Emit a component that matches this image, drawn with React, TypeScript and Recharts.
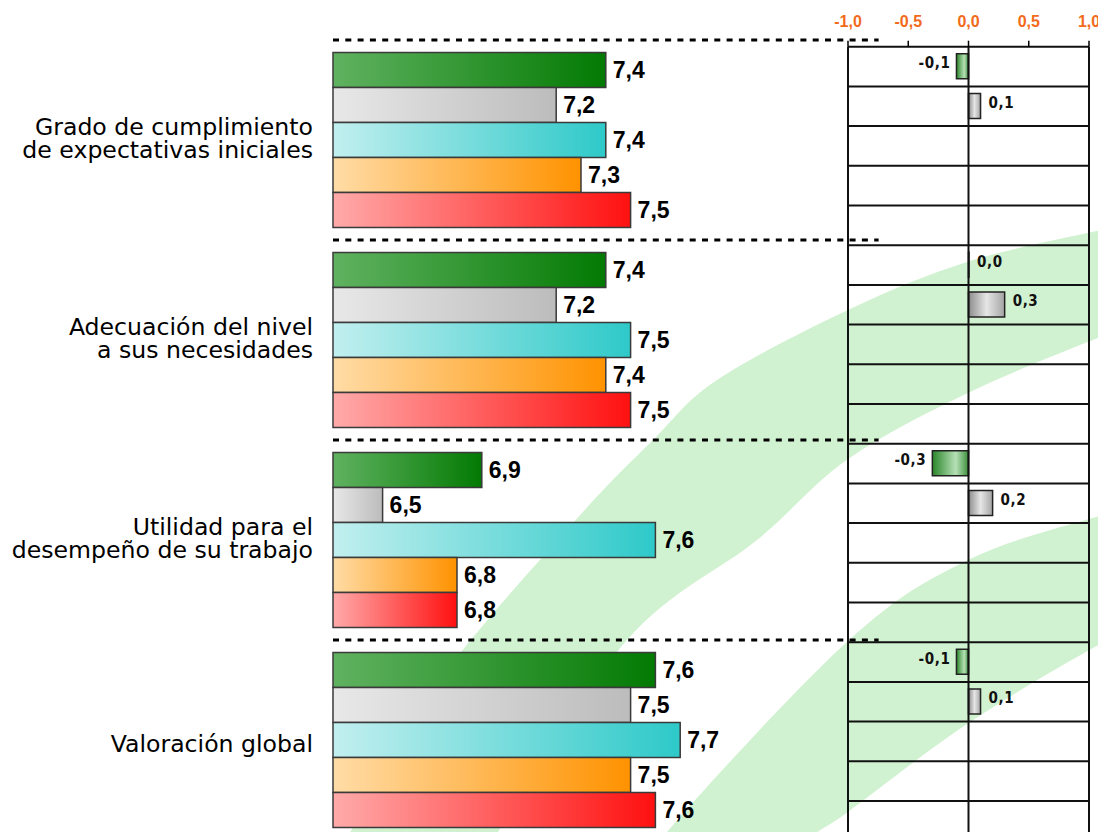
import React from "react";
import {
  BarChart,
  Bar,
  XAxis,
  YAxis,
  CartesianGrid,
  LabelList,
  Cell,
  ReferenceLine,
} from "recharts";

// category labels (one entry per line)
const categories = [
  ["Grado de cumplimiento", "de expectativas iniciales"],
  ["Adecuación del nivel", "a sus necesidades"],
  ["Utilidad para el", "desempeño de su trabajo"],
  ["Valoración global"],
];

// left panel: scores per series
const serieVerde = [7.4, 7.4, 6.9, 7.6];
const serieGris = [7.2, 7.2, 6.5, 7.5];
const serieTurquesa = [7.4, 7.5, 7.6, 7.7];
const serieNaranja = [7.3, 7.4, 6.8, 7.5];
const serieRoja = [7.5, 7.5, 6.8, 7.6];

// right panel: differences (only the first two series have one)
const difVerde = [-0.1, 0.0, -0.3, -0.1];
const difGris = [0.1, 0.3, 0.2, 0.1];

const diffTicks = [-1, -0.5, 0, 0.5, 1];

const series = [
  { key: "verde", grad: "gVerde" },
  { key: "gris", grad: "gGris" },
  { key: "turquesa", grad: "gTurquesa" },
  { key: "naranja", grad: "gNaranja" },
  { key: "roja", grad: "gRoja" },
];

const ARIAL = "'Liberation Sans', Arial, sans-serif";
const VERDANA = "'DejaVu Sans', Verdana, sans-serif";

const fmt = (v: any) => (typeof v === "number" ? v.toFixed(1).replace(".", ",") : "");

const mainData = categories.map((lines, i) => ({
  name: lines.join("|"),
  verde: serieVerde[i],
  gris: serieGris[i],
  turquesa: serieTurquesa[i],
  naranja: serieNaranja[i],
  roja: serieRoja[i],
}));

const diffData = categories.flatMap((_, i) => [
  { id: `${i}-verde`, v: difVerde[i], kind: "verde" },
  { id: `${i}-gris`, v: difGris[i], kind: "gris" },
  { id: `${i}-turquesa`, v: null, kind: "none" },
  { id: `${i}-naranja`, v: null, kind: "none" },
  { id: `${i}-roja`, v: null, kind: "none" },
]);

// decorative background arcs
const bandA = {
  upper: [[300, 930], [346, 840], [440, 680], [573, 523], [653, 440], [717, 380], [848, 310], [970, 261], [1106, 229], [1150, 220]],
  lower: [[1150, 322], [1106, 335], [970, 392], [848, 459], [757, 540], [627, 640], [493, 840], [450, 920]],
};
const bandB = {
  upper: [[600, 930], [660, 840], [848, 641], [970, 559], [1106, 514], [1150, 503]],
  lower: [[1150, 625], [1106, 641], [970, 722], [848, 812], [810, 840], [770, 900]],
};

function curve(pts: number[][]) {
  let d = "";
  for (let i = 0; i < pts.length - 1; i++) {
    const p0 = pts[i - 1] || pts[i];
    const p1 = pts[i];
    const p2 = pts[i + 1];
    const p3 = pts[i + 2] || p2;
    const c1x = p1[0] + (p2[0] - p0[0]) / 6;
    const c1y = p1[1] + (p2[1] - p0[1]) / 6;
    const c2x = p2[0] - (p3[0] - p1[0]) / 6;
    const c2y = p2[1] - (p3[1] - p1[1]) / 6;
    d += ` C${c1x},${c1y} ${c2x},${c2y} ${p2[0]},${p2[1]}`;
  }
  return d;
}

function bandPath(b: { upper: number[][]; lower: number[][] }) {
  return (
    `M${b.upper[0][0]},${b.upper[0][1]}` +
    curve(b.upper) +
    ` L${b.lower[0][0]},${b.lower[0][1]}` +
    curve(b.lower) +
    " Z"
  );
}

const CategoryTick = (props: any) => {
  const { x, y, payload } = props;
  const lines: string[] = String(payload.value).split("|");
  const first = lines.length === 1 ? 12 : -5;
  return (
    <text x={x} y={y} textAnchor="end" fill="#000" style={{ fontSize: 23.6, fontFamily: VERDANA }}>
      {lines.map((l, i) => (
        <tspan key={i} x={x} y={y + first + i * 23}>
          {l}
        </tspan>
      ))}
    </text>
  );
};

const DiffTick = (props: any) => {
  const { x, y, payload } = props;
  return (
    <text
      x={x}
      y={y}
      textAnchor="middle"
      fill="#f26a1b"
      style={{ fontSize: 16, fontWeight: 700, fontFamily: ARIAL }}
    >
      {fmt(payload.value)}
    </text>
  );
};

const ValueLabel = (props: any) => {
  const vb = props.viewBox ?? props;
  const x = vb.x ?? props.x;
  const y = vb.y ?? props.y;
  const w = vb.width ?? props.width ?? 0;
  const h = vb.height ?? props.height ?? 0;
  if (props.value === null || props.value === undefined) return null;
  return (
    <text
      x={x + w + 7}
      y={y + h / 2}
      dominantBaseline="central"
      fill="#000"
      style={{ fontSize: 23, fontWeight: 700, fontFamily: ARIAL }}
    >
      {fmt(props.value)}
    </text>
  );
};

const DiffLabel = (props: any) => {
  const vb = props.viewBox ?? props;
  const { value } = props;
  if (value === null || value === undefined) return null;
  const x = vb.x ?? props.x;
  const y = vb.y ?? props.y;
  const w = vb.width ?? props.width ?? 0;
  const h = vb.height ?? props.height ?? 0;
  const left = Math.min(x, x + w);
  const right = Math.max(x, x + w);
  const neg = value < 0;
  return (
    <text
      x={neg ? left - 6 : right + 8}
      y={y + h / 2 - 3}
      textAnchor={neg ? "end" : "start"}
      dominantBaseline="central"
      fill="#111"
      style={{
        fontSize: 15,
        fontWeight: 700,
        letterSpacing: 0.6,
        fontFamily: "'DejaVu Sans Condensed', 'DejaVu Sans', sans-serif",
      }}
    >
      {fmt(value)}
    </text>
  );
};

export default function App() {
  return (
    <div
      style={{
        position: "relative",
        width: 1106,
        height: 840,
        margin: -8,
        overflow: "hidden",
        background: "#fff",
      }}
    >
      <svg width={1106} height={840} style={{ position: "absolute", left: 0, top: 0 }}>
        <defs>
          <linearGradient id="gVerde" x1="0" y1="0" x2="1" y2="0">
            <stop offset="0%" stopColor="#60b260" />
            <stop offset="100%" stopColor="#037a03" />
          </linearGradient>
          <linearGradient id="gGris" x1="0" y1="0" x2="1" y2="0">
            <stop offset="0%" stopColor="#e8e8e8" />
            <stop offset="100%" stopColor="#bcbcbc" />
          </linearGradient>
          <linearGradient id="gTurquesa" x1="0" y1="0" x2="1" y2="0">
            <stop offset="0%" stopColor="#c2efef" />
            <stop offset="100%" stopColor="#2ec9c9" />
          </linearGradient>
          <linearGradient id="gNaranja" x1="0" y1="0" x2="1" y2="0">
            <stop offset="0%" stopColor="#ffdca6" />
            <stop offset="100%" stopColor="#ff9200" />
          </linearGradient>
          <linearGradient id="gRoja" x1="0" y1="0" x2="1" y2="0">
            <stop offset="0%" stopColor="#ffaaaa" />
            <stop offset="100%" stopColor="#ff1010" />
          </linearGradient>
          <linearGradient id="gDifVerde" x1="0" y1="0" x2="1" y2="0">
            <stop offset="0%" stopColor="#2a862a" />
            <stop offset="65%" stopColor="#b6e0b6" />
            <stop offset="100%" stopColor="#3b8f3b" />
          </linearGradient>
          <linearGradient id="gDifGris" x1="0" y1="0" x2="1" y2="0">
            <stop offset="0%" stopColor="#8c8c8c" />
            <stop offset="50%" stopColor="#e6e6e6" />
            <stop offset="100%" stopColor="#a4a4a4" />
          </linearGradient>
        </defs>
        <path d={bandPath(bandA)} fill="#d1f2d1" />
        <path d={bandPath(bandB)} fill="#d1f2d1" />
      </svg>

      <div style={{ position: "absolute", left: 0, top: 0 }}>
        <BarChart
          width={1106}
          height={841}
          data={diffData}
          layout="vertical"
          margin={{ top: 0, right: 17, bottom: 0.3, left: 848 }}
          barSize={25}
        >
          <CartesianGrid
            vertical={false}
            stroke="#111"
            strokeWidth={2}
            horizontalCoordinatesGenerator={({ offset }: any) =>
              Array.from({ length: diffData.length + 1 }, (_, i) => offset.top + (i * offset.height) / diffData.length)
            }
          />
          <XAxis
            type="number"
            orientation="top"
            domain={[-1, 1]}
            ticks={diffTicks}
            interval={0}
            height={46.7}
            axisLine={false}
            tickSize={6}
            tickMargin={14}
            tickLine={{ stroke: "#000", strokeWidth: 1.5 }}
            tick={<DiffTick />}
          />
          <YAxis type="category" dataKey="id" hide />
          <ReferenceLine x={-1} stroke="#111" strokeWidth={2} />
          <ReferenceLine x={0} stroke="#111" strokeWidth={2} />
          <ReferenceLine x={1} stroke="#111" strokeWidth={2} />
          <Bar
            dataKey="v"
            stroke="#222"
            strokeWidth={1.5}
            minPointSize={(v: any) => (v === 0 ? 0.5 : 0)}
            isAnimationActive={false}
          >
            {diffData.map((d) => (
              <Cell key={d.id} fill={d.kind === "gris" ? "url(#gDifGris)" : "url(#gDifVerde)"} />
            ))}
            <LabelList dataKey="v" content={DiffLabel} />
          </Bar>
        </BarChart>
      </div>

      <div style={{ position: "absolute", left: 0, top: 0 }}>
        <BarChart
          width={1106}
          height={840}
          data={mainData}
          layout="vertical"
          margin={{ top: 40, right: 227.4, bottom: 0, left: 0 }}
          barCategoryGap="6.25%"
          barGap={0}
        >
          <CartesianGrid
            vertical={false}
            stroke="#000"
            strokeWidth={3}
            strokeDasharray="6 6.3"
            horizontalCoordinatesGenerator={({ offset }: any) =>
              mainData.map((_, i) => offset.top + (i * offset.height) / mainData.length)
            }
          />
          <XAxis type="number" domain={[6.3, 8.5]} hide />
          <YAxis
            type="category"
            dataKey="name"
            width={333}
            axisLine={false}
            tickLine={false}
            tickSize={0}
            tickMargin={20}
            interval={0}
            tick={<CategoryTick />}
          />
          {series.map((s) => (
            <Bar
              key={s.key}
              dataKey={s.key}
              fill={`url(#${s.grad})`}
              stroke="#3a3a3a"
              strokeWidth={1.5}
              isAnimationActive={false}
            >
              <LabelList dataKey={s.key} content={ValueLabel} />
            </Bar>
          ))}
        </BarChart>
      </div>
    </div>
  );
}
